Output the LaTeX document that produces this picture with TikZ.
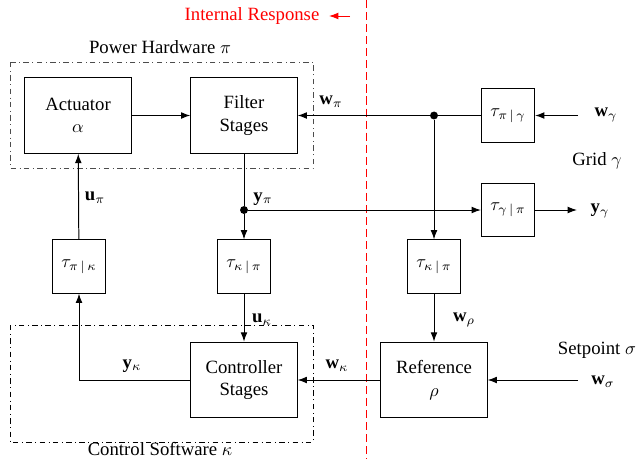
\documentclass[tikz,border=0pt]{standalone}
\usepackage{fontspec}
\setmainfont{Liberation Serif}
\usetikzlibrary{arrows.meta}
\begin{document}
\begin{tikzpicture}[x=0.5556pt,y=-0.5556pt,
  font=\fontsize{10.4pt}{12.4pt}\selectfont,
  blk/.style={draw,line width=0.6pt,minimum width=59pt,minimum height=42pt,align=center,inner sep=0pt},
  tbox/.style={draw,line width=0.6pt,minimum size=29.5pt,inner sep=0pt},
  arr/.style={-{Latex[length=5.2pt,width=3.8pt]},line width=0.55pt},
  ln/.style={line width=0.55pt},
  lbl/.style={inner sep=0pt},
  grp/.style={dash dot,line width=0.55pt},
  dotj/.style={circle,fill,inner sep=0pt,minimum size=4.4pt}
]
\useasboundingbox (0,0) rectangle (640,459);

% internal response boundary
\draw[red,line width=0.55pt,dash pattern=on 4.5pt off 2.2pt] (366,0) -- (366,459);
\node[lbl,red] (ir) at (252,16) {Internal Response};
\coordinate (irs) at (350,16);
\coordinate (ire) at (329,16);
\draw[red,arr] (irs) -- (ire);

% groups
\draw[grp,black!70] (10,62) rectangle (313,168);
\node[lbl] (ph) at (160,47) {Power Hardware $\pi$};
\draw[grp] (10,325) rectangle (313,442);
\node[lbl] (cs) at (160,449) {Control Software $\kappa$};

% blocks
\node[blk] (act) at (78,115.5) {Actuator\\$\alpha$};
\node[blk] (fil) at (244,115.5) {Filter\\Stages};
\node[blk] (ctl) at (244,380) {Controller\\Stages};
\node[blk] (ref) at (434,380) {Reference\\$\rho$};

\node[tbox] (tpg) at (508,115.5) {$\tau_{\pi\,|\,\gamma}$};
\node[tbox] (tgp) at (508,210) {$\tau_{\gamma\,|\,\pi}$};
\node[tbox] (tkp1) at (244,266.5) {$\tau_{\kappa\,|\,\pi}$};
\node[tbox] (tpk) at (79,266.5) {$\tau_{\pi\,|\,\kappa}$};
\node[tbox] (tkp2) at (434,266.5) {$\tau_{\kappa\,|\,\pi}$};

\node[dotj] (jw) at (434,115.5) {};
\node[dotj] (jy) at (244,210) {};
\coordinate (wg) at (578,115.5);
\coordinate (yg) at (577,210);
\coordinate (ws) at (578,380);

% connectors
\draw[arr] (act) -- (fil);
\draw[ln] (tpg) -- (jw);
\draw[arr] (jw) -- (fil);
\draw[arr] (wg) -- (tpg);
\draw[ln] (fil) -- (jy);
\draw[arr] (jy) -- (tgp);
\draw[arr] (tgp) -- (yg);
\draw[arr] (jy) -- (tkp1);
\draw[arr] (jw) -- (tkp2);
\draw[arr] (tkp2) -- (ref);
\draw[arr] (tkp1) -- (ctl);
\draw[arr] (ws) -- (ref);
\draw[arr] (ref) -- (ctl);
\draw[arr] (ctl.west) -| (tpk);
\draw[arr] (tpk) -- (act);

% labels
\node[lbl] (lwp) at (331,102) {$\mathbf{w}_\pi$};
\node[lbl] (lwg) at (606,115) {$\mathbf{w}_\gamma$};
\node[lbl] (lgrid) at (597,161) {Grid $\gamma$};
\node[lbl] (lyg) at (600,211) {$\mathbf{y}_\gamma$};
\node[lbl] (lyp) at (263,199) {$\mathbf{y}_\pi$};
\node[lbl] (lup) at (95,198) {$\mathbf{u}_\pi$};
\node[lbl] (luk) at (262,320) {$\mathbf{u}_\kappa$};
\node[lbl] (lwr) at (464,320) {$\mathbf{w}_\rho$};
\node[lbl] (lyk) at (132,366) {$\mathbf{y}_\kappa$};
\node[lbl] (lwk) at (337,366) {$\mathbf{w}_\kappa$};
\node[lbl] (lsp) at (597,350) {Setpoint $\sigma$};
\node[lbl] (lws) at (603,382) {$\mathbf{w}_\sigma$};
\end{tikzpicture}
\end{document}
